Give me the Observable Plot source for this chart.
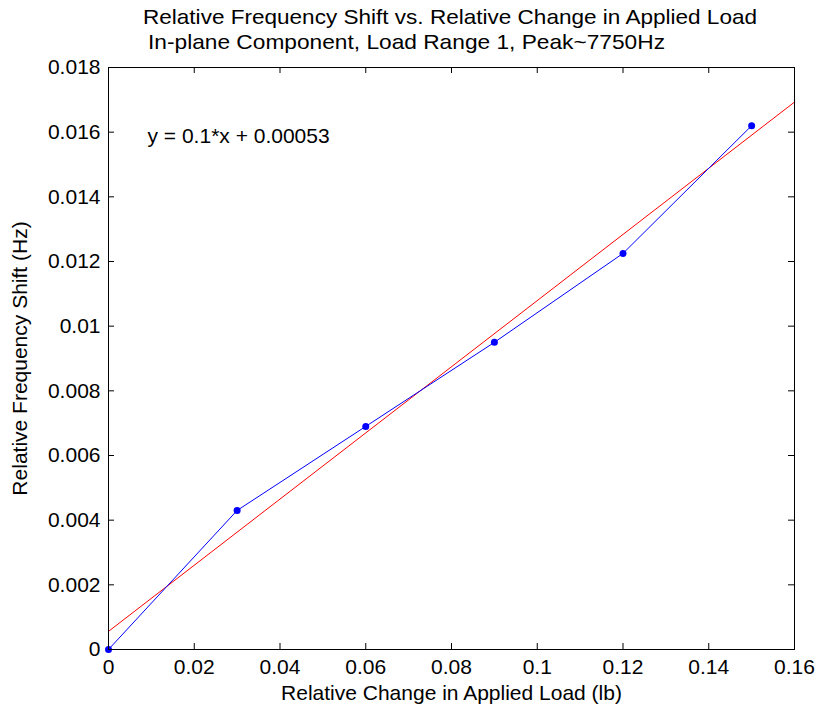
<!DOCTYPE html>
<html>
<head>
<meta charset="utf-8">
<script src="https://cdn.jsdelivr.net/npm/d3@7"></script>
<script src="https://cdn.jsdelivr.net/npm/@observablehq/plot@0.6"></script>
<style>
  html, body { margin: 0; padding: 0; background: #fff; }
  #wrap { position: relative; width: 822px; height: 713px; font-family: "Liberation Sans", Arial, sans-serif; }
  .title { position: absolute; font-size: 21px; color: #000; white-space: pre; line-height: 1; }
</style>
</head>
<body>
<div id="wrap">
  <div class="title" id="t1" style="left:143px; top:6px; transform-origin:0 0;">Relative Frequency Shift vs. Relative Change in Applied Load</div>
  <div class="title" id="t2" style="left:148px; top:31px; transform-origin:0 0;">In-plane Component, Load Range 1, Peak~7750Hz</div>
</div>
<script>
// Measured data (relative change in load vs relative frequency shift)
const loadChange = [0, 0.03, 0.06, 0.09, 0.12, 0.15];
const freqShift  = [0, 0.0043, 0.0069, 0.0095, 0.01225, 0.0162];
// Linear fit line endpoints
const fitX = [0, 0.16];
const fitY = [0.00056, 0.01693];
const equationLabel = ["y = 0.1*x + 0.00053"];
const xTicks = [0, 0.02, 0.04, 0.06, 0.08, 0.1, 0.12, 0.14, 0.16];
const yTicks = [0, 0.002, 0.004, 0.006, 0.008, 0.01, 0.012, 0.014, 0.016, 0.018];

const pts = loadChange.map((x, i) => ({x, y: freqShift[i]}));
const fit = fitX.map((x, i) => ({x, y: fitY[i]}));

const W = 822, H = 713;
const mL = 108, mR = 28, mT = 67, mB = 64;
const pw = W - mL - mR, ph = H - mT - mB;
const tl = 6;

const chart = Plot.plot({
  width: W, height: H,
  marginLeft: mL, marginRight: mR, marginTop: mT, marginBottom: mB,
  style: {fontFamily: "Liberation Sans, Arial, sans-serif", fontSize: "21px", color: "#000", background: "#fff"},
  x: {domain: [0, 0.16], ticks: xTicks},
  y: {domain: [0, 0.018], ticks: yTicks},
  marks: [
    Plot.line(fit, {x: "x", y: "y", stroke: "#ff0000", strokeWidth: 1}),
    Plot.line(pts, {x: "x", y: "y", stroke: "#0000ff", strokeWidth: 1}),
    Plot.dot(pts, {x: "x", y: "y", fill: "#0000ff", r: 3.5}),
    Plot.tickX(xTicks, {x: d => d, insetTop: ph - tl, stroke: "#000"}),
    Plot.tickX(xTicks, {x: d => d, insetBottom: ph - tl, stroke: "#000"}),
    Plot.tickY(yTicks, {y: d => d, insetRight: pw - tl, stroke: "#000"}),
    Plot.tickY(yTicks, {y: d => d, insetLeft: pw - tl, stroke: "#000"}),
    Plot.frame({stroke: "#000", strokeWidth: 1}),
    Plot.axisX(xTicks, {tickSize: 0, tickPadding: 10, tickFormat: d => String(d), fontSize: 21,
      label: "Relative Change in Applied Load (lb)", labelAnchor: "center", labelOffset: 50, labelArrow: "none"}),
    Plot.axisY(yTicks, {tickSize: 0, tickPadding: 8, tickFormat: d => String(d), fontSize: 21,
      label: "Relative Frequency Shift (Hz)", labelAnchor: "center", labelOffset: 96, labelArrow: "none"}),
    Plot.text(equationLabel, {frameAnchor: "top-left", dx: 39, dy: 61, text: d => d, textAnchor: "start", fontSize: 21, fill: "#000"})
  ]
});
chart.style.position = "absolute";
chart.style.left = "0";
chart.style.top = "0";
const wrap = document.getElementById("wrap");
wrap.insertBefore(chart, wrap.firstChild);

// condense titles to the reference widths
function fit_(id, w) {
  const el = document.getElementById(id);
  const r = el.getBoundingClientRect().width;
  el.style.transform = `scaleX(${w / r})`;
}
fit_("t1", 614);
fit_("t2", 517);
</script>
</body>
</html>
